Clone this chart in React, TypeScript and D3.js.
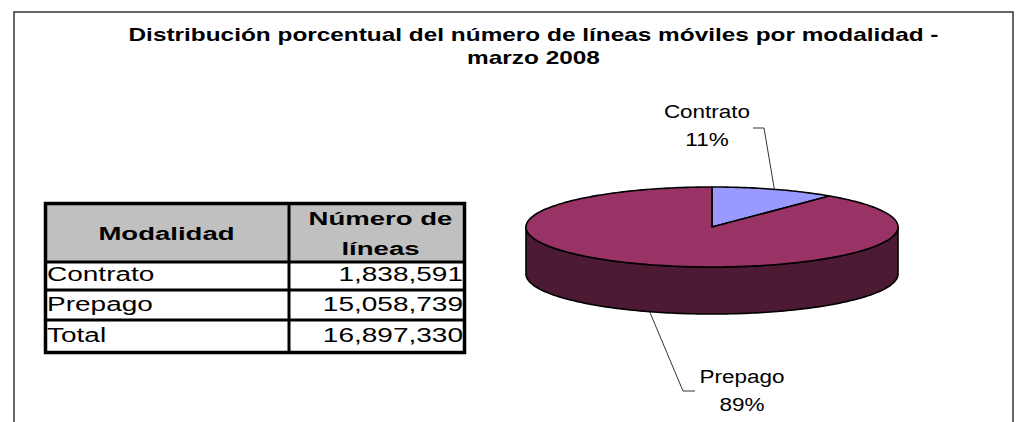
import React from "react";
import * as d3 from "d3";

// data
const modalidades = ["Contrato", "Prepago"];
const lineas = [1838591, 15058739];
const colores = ["#9999ff", "#993366"];
const coloresLado = ["#4d4d80", "#4d1a33"];
const titulo = [
  "Distribución porcentual del número de líneas móviles por modalidad -",
  "marzo 2008",
];
const encabezadoModalidad = "Modalidad";
const encabezadoLineas = ["Número de", "líneas"];

const W = 1030;
const H = 422;
const FONT = "'Liberation Sans', Arial, Helvetica, sans-serif";

// pie geometry (flattened 3D look)
const cx = 712;
const cy = 227;
const rx = 186;
const ry = 40;
const depth = 47;

const proj = (a: number, dy = 0): [number, number] => [
  cx + rx * Math.sin(a),
  cy - ry * Math.cos(a) + dy,
];

const arcPoints = (a0: number, a1: number, dy = 0) => {
  const n = Math.max(2, Math.ceil(Math.abs(a1 - a0) / 0.02));
  return d3.range(n + 1).map((i) => proj(a0 + ((a1 - a0) * i) / n, dy));
};

// label layout: text centre + leader elbows
const labelLayout = [
  { x: 707, y: 118, stub: [753, 128], elbow: [764, 128] },
  { x: 742, y: 383, stub: [695, 391], elbow: [683, 391] },
];

// table layout
const T = { x0: 44, x1: 466, xd: 289, y0: 202, yh: 262, rows: [262, 290, 320, 351] };

function Label({ x, y, sx, size, bold, anchor, children }: any) {
  return (
    <text
      transform={`translate(${x},${y}) scale(${sx},1)`}
      textAnchor={anchor || "middle"}
      fontFamily={FONT}
      fontSize={size}
      fontWeight={bold ? "bold" : "normal"}
      fill="#000"
    >
      {children}
    </text>
  );
}

export default function App() {
  const total = d3.sum(lineas);
  const fmt = d3.format(",");
  const pct = d3.format(".0%");

  const pie = d3
    .pie<number>()
    .sort(null)
    .startAngle(0)
    .endAngle(2 * Math.PI)
    .value((d) => d);
  const arcs = pie(lineas);

  const line = d3.line();

  const sides = arcs
    .map((a, i) => {
      const s0 = Math.max(a.startAngle, Math.PI / 2);
      const s1 = Math.min(a.endAngle, (3 * Math.PI) / 2);
      if (s0 >= s1) return null;
      const pts = [...arcPoints(s0, s1), ...arcPoints(s1, s0, depth)];
      return { d: line(pts) + "Z", fill: coloresLado[i] };
    })
    .filter(Boolean) as { d: string; fill: string }[];

  const tops = arcs.map((a, i) => ({
    d: line([[cx, cy], ...arcPoints(a.startAngle, a.endAngle)]) + "Z",
    fill: colores[i],
  }));

  const tableRows = [
    ...modalidades.map((m, i) => [m, fmt(lineas[i])]),
    ["Total", fmt(total)],
  ];

  return (
    <svg
      width={W}
      height={H}
      style={{ position: "absolute", left: 0, top: 0, background: "#fff" }}
    >
      {/* frame */}
      <rect x={14} y={12} width={999} height={430} fill="#fff" stroke="#333" strokeWidth={1.5} />

      {/* title */}
      <Label x={533.5} y={41} sx={1.355} size={18} bold>
        {titulo[0]}
      </Label>
      <Label x={533.5} y={64} sx={1.355} size={18} bold>
        {titulo[1]}
      </Label>

      {/* table */}
      <rect x={T.x0} y={T.y0} width={T.x1 - T.x0} height={T.yh - T.y0} fill="#c0c0c0" />
      <Label x={(T.x0 + T.xd) / 2} y={240} sx={1.45} size={19} bold>
        {encabezadoModalidad}
      </Label>
      <Label x={(T.xd + T.x1) / 2 + 3} y={225} sx={1.45} size={19} bold>
        {encabezadoLineas[0]}
      </Label>
      <Label x={(T.xd + T.x1) / 2 + 3} y={255} sx={1.45} size={19} bold>
        {encabezadoLineas[1]}
      </Label>
      {tableRows.map((r, i) => {
        const base = T.rows[i + 1] - 9;
        return (
          <g key={r[0]}>
            <Label x={T.x0 + 3} y={base} sx={1.4} size={20} anchor="start">
              {r[0]}
            </Label>
            <Label x={T.x1 - 3} y={base} sx={1.4} size={20} anchor="end">
              {r[1]}
            </Label>
          </g>
        );
      })}
      {T.rows.slice(0, 3).map((y) => (
        <line key={y} x1={T.x0} x2={T.x1} y1={y} y2={y} stroke="#000" strokeWidth={3} />
      ))}
      <line x1={T.xd} x2={T.xd} y1={T.y0} y2={T.rows[3]} stroke="#000" strokeWidth={3} />
      <rect
        x={T.x0 + 1.5}
        y={T.y0 + 1.5}
        width={T.x1 - T.x0 - 3}
        height={T.rows[3] - T.y0}
        fill="none"
        stroke="#000"
        strokeWidth={3.5}
      />

      {/* pie */}
      {sides.map((s, i) => (
        <path key={"s" + i} d={s.d} fill={s.fill} stroke="#000" strokeWidth={1.6} strokeLinejoin="round" />
      ))}
      {tops.map((t, i) => (
        <path key={"t" + i} d={t.d} fill={t.fill} stroke="#000" strokeWidth={1.6} strokeLinejoin="round" />
      ))}

      {/* labels + leaders */}
      {arcs.map((a, i) => {
        const mid = (a.startAngle + a.endAngle) / 2;
        const front = Math.cos(mid) < 0;
        const edge = proj(mid, front ? depth : 0);
        const L = labelLayout[i];
        return (
          <g key={"l" + i}>
            <polyline
              points={[L.stub, L.elbow, edge].map((p) => p.join(",")).join(" ")}
              fill="none"
              stroke="#000"
              strokeWidth={0.8}
            />
            <Label x={L.x} y={L.y} sx={1.25} size={18}>
              {modalidades[i]}
            </Label>
            <Label x={L.x} y={L.y + 28} sx={1.25} size={18}>
              {pct(a.data / total)}
            </Label>
          </g>
        );
      })}
    </svg>
  );
}
